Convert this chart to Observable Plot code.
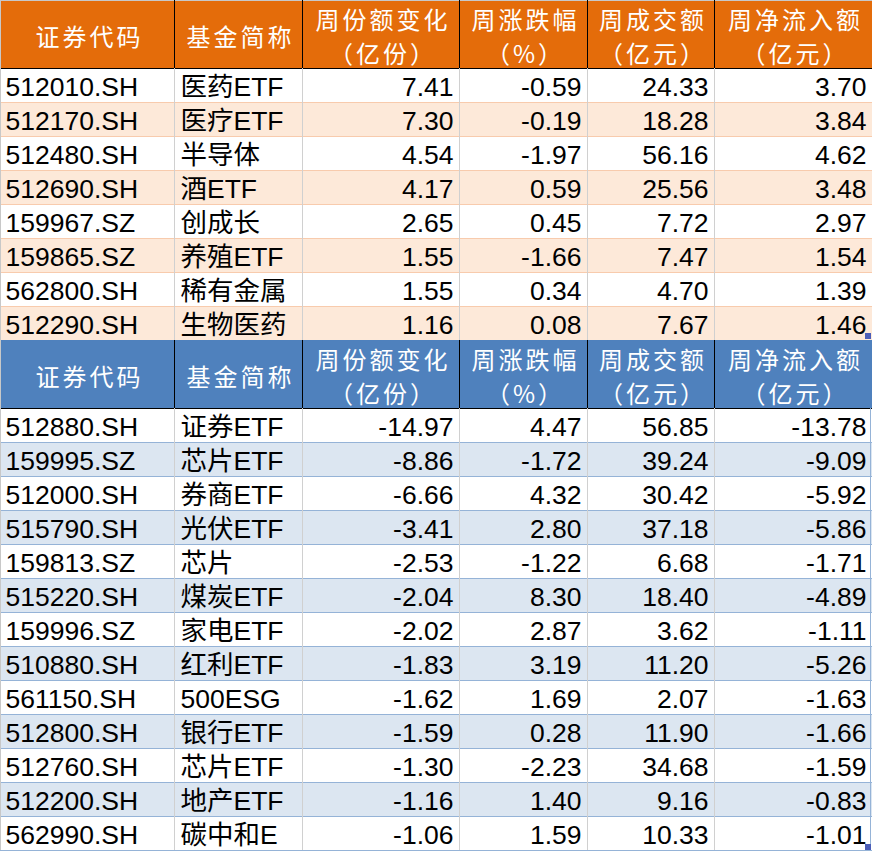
<!DOCTYPE html>
<html><head><meta charset="utf-8">
<script src="https://cdn.jsdelivr.net/npm/d3@7"></script>
<script src="https://cdn.jsdelivr.net/npm/@observablehq/plot@0.6"></script>
<style>body{margin:0;background:#fff}</style>
</head><body><div id="chart"></div>
<script>
// ---- data ----
const headers = ["证券代码", "基金简称", "周份额变化\n（亿份）", "周涨跌幅\n（%）", "周成交额\n（亿元）", "周净流入额\n（亿元）"];

const codesTop = ["512010.SH","512170.SH","512480.SH","512690.SH","159967.SZ","159865.SZ","562800.SH","512290.SH"];
const namesTop = ["医药ETF","医疗ETF","半导体","酒ETF","创成长","养殖ETF","稀有金属","生物医药"];
const shareChgTop = [7.41, 7.30, 4.54, 4.17, 2.65, 1.55, 1.55, 1.16];
const pctTop = [-0.59, -0.19, -1.97, 0.59, 0.45, -1.66, 0.34, 0.08];
const volTop = [24.33, 18.28, 56.16, 25.56, 7.72, 7.47, 4.70, 7.67];
const flowTop = [3.70, 3.84, 4.62, 3.48, 2.97, 1.54, 1.39, 1.46];

const codesBot = ["512880.SH","159995.SZ","512000.SH","515790.SH","159813.SZ","515220.SH","159996.SZ","510880.SH","561150.SH","512800.SH","512760.SH","512200.SH","562990.SH"];
const namesBot = ["证券ETF","芯片ETF","券商ETF","光伏ETF","芯片","煤炭ETF","家电ETF","红利ETF","500ESG","银行ETF","芯片ETF","地产ETF","碳中和E"];
const shareChgBot = [-14.97, -8.86, -6.66, -3.41, -2.53, -2.04, -2.02, -1.83, -1.62, -1.59, -1.30, -1.16, -1.06];
const pctBot = [4.47, -1.72, 4.32, 2.80, -1.22, 8.30, 2.87, 3.19, 1.69, 0.28, -2.23, 1.40, 1.59];
const volBot = [56.85, 39.24, 30.42, 37.18, 6.68, 18.40, 3.62, 11.20, 2.07, 11.90, 34.68, 9.16, 10.33];
const flowBot = [-13.78, -9.09, -5.92, -5.86, -1.71, -4.89, -1.11, -5.26, -1.63, -1.66, -1.59, -0.83, -1.01];

// ---- layout ----
const W = 872, H = 851;
const colWidths = [174, 128, 157, 128, 127, 158];
const headerH = 68, rowH = 34, pad = 6;
const colX = [0];
colWidths.forEach(w => colX.push(colX[colX.length - 1] + w));

const sections = [
  {codes: codesTop, names: namesTop, vals: [shareChgTop, pctTop, volTop, flowTop],
   head: "#E46C0A", band: "#FDE9D9", hline: "#F8CBAD"},
  {codes: codesBot, names: namesBot, vals: [shareChgBot, pctBot, volBot, flowBot],
   head: "#4F81BD", band: "#DCE6F1", hline: "#95B3D7"}
];

const cells = [], hdrText = [], leftText = [], rightText = [];
const vRules = [], hRules = [];
let y0 = 0;
sections.forEach(s => {
  headers.forEach((h, c) => {
    cells.push({x1: colX[c], x2: colX[c + 1], y1: y0, y2: y0 + headerH, fill: s.head});
    hdrText.push({x: (colX[c] + colX[c + 1]) / 2 + 2, y: y0 + headerH / 2 + 1, text: h});
  });
  for (let c = 1; c < colWidths.length; c++) vRules.push({x: colX[c], y1: y0, y2: y0 + headerH, stroke: "#000"});
  hRules.push({y: y0 + headerH, x1: 0, x2: W, stroke: "#000"});
  const top = y0 + headerH;
  s.codes.forEach((code, r) => {
    const ry = top + r * rowH;
    const fill = r % 2 ? s.band : "#FFFFFF";
    cells.push({x1: 0, x2: W, y1: ry, y2: ry + rowH, fill});
    const cy = ry + rowH / 2 + 2;
    leftText.push({x: colX[0] + pad - 1, y: cy, text: code});
    leftText.push({x: colX[1] + pad, y: cy, text: s.names[r]});
    s.vals.forEach((arr, k) => {
      rightText.push({x: colX[k + 3] - pad, y: cy, text: arr[r].toFixed(2)});
    });
    if (r > 0) hRules.push({y: ry, x1: 0, x2: W, stroke: s.hline});
  });
  const bottom = top + s.codes.length * rowH;
  for (let c = 1; c < colWidths.length; c++) vRules.push({x: colX[c], y1: top, y2: bottom, stroke: "#D0D0D0"});
  y0 = bottom;
});
hRules.push({y: y0, x1: 0, x2: W, stroke: "#95B3D7"});
hRules.push({y: 0, x1: 0, x2: W, stroke: "#C8C8C8"});
vRules.push({x: 0, y1: 0, y2: y0, stroke: "#C8C8C8"});
vRules.push({x: W - 2, y1: headerH * 2 + rowH * codesTop.length, y2: y0, stroke: "#95B3D7"});

const handles = [
  {x1: W - 7, x2: W - 1, y1: headerH + rowH * codesTop.length - 7, y2: headerH + rowH * codesTop.length - 1},
  {x1: W - 7, x2: W - 1, y1: y0 - 6, y2: y0}
];

const dataFont = "'Liberation Sans', Arial, 'Noto Sans CJK SC', sans-serif";
const chart = Plot.plot({
  width: W, height: H, margin: 0,
  x: {domain: [0, W], range: [0, W], axis: null},
  y: {domain: [0, H], range: [0, H], axis: null},
  color: {type: "identity"},
  style: {background: "#fff"},
  marks: [
    Plot.rect(cells, {x1: "x1", x2: "x2", y1: "y1", y2: "y2", fill: "fill"}),
    Plot.ruleY(hRules, {y: "y", x1: "x1", x2: "x2", stroke: "stroke"}),
    Plot.ruleX(vRules, {x: "x", y1: "y1", y2: "y2", stroke: "stroke"}),
    Plot.rect(handles, {x1: "x1", x2: "x2", y1: "y1", y2: "y2", fill: "#4B5EB8"}),
    Plot.text(hdrText, {x: "x", y: "y", text: "text", fill: "#fff", fontSize: 24, fontWeight: 400, lineHeight: 34 / 24,
      textAnchor: "middle", lineAnchor: "middle", fontFamily: "'Noto Sans CJK SC', sans-serif", ariaDescription: "hdr"}),
    Plot.text(leftText, {x: "x", y: "y", text: "text", fill: "#000", fontSize: 26.5,
      textAnchor: "start", lineAnchor: "middle", fontFamily: dataFont}),
    Plot.text(rightText, {x: "x", y: "y", text: "text", fill: "#000", fontSize: 26.5,
      textAnchor: "end", lineAnchor: "middle", fontFamily: dataFont})
  ]
});
d3.select(chart).selectAll('g[aria-description="hdr"] text').style("letter-spacing", "3px");
document.getElementById("chart").appendChild(chart);
</script>
</body></html>
